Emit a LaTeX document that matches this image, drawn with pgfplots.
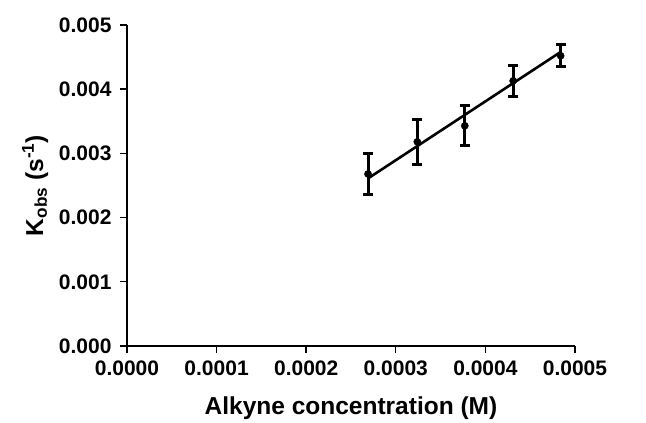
\documentclass[border=0pt]{standalone}
\usepackage{fontspec}
\setmainfont{Liberation Sans}
\usepackage{pgfplots}
\pgfplotsset{compat=1.18}
\begin{document}
\begin{tikzpicture}
\begin{axis}[
  scale only axis,
  width=448pt, height=321pt,
  xmin=0, xmax=0.0005, ymin=0, ymax=0.005,
  axis lines*=left,
  axis line style={line width=1.4pt},
  tick style={line width=1.4pt, black},
  tick align=outside,
  major tick length=7pt,
  xtick={0,0.0001,0.0002,0.0003,0.0004,0.0005},
  ytick={0,0.001,0.002,0.003,0.004,0.005},
  scaled ticks=false,
  xticklabel style={yshift=-4pt, /pgf/number format/.cd, fixed, fixed zerofill, precision=4},
  yticklabel style={xshift=-5pt, /pgf/number format/.cd, fixed, fixed zerofill, precision=3},
  /pgf/number format/assume math mode=true,
  ticklabel style={font=\fontsize{21}{25}\selectfont\bfseries},
  label style={font=\fontsize{24.5}{28}\selectfont\bfseries},
  xlabel style={at={(axis description cs:0.5,-0.193)}, anchor=center},
  ylabel style={at={(axis description cs:-0.205,0.5)}, anchor=center},
  xlabel={Alkyne concentration (M)},
  ylabel={K\textsubscript{obs} (s\textsuperscript{-1})},
  clip=false,
]
\addplot[black, line width=2.6pt, mark=none] coordinates {(0.000269,0.00261) (0.000484,0.00458)};
\addplot[black, only marks, mark=*, mark size=3.6pt,
  error bars/.cd, y dir=both, y explicit,
  error bar style={line width=3pt}, error mark options={rotate=90, mark size=5pt, line width=2.8pt}]
  coordinates {
  (0.000269,0.00268) +- (0,0.00032)
  (0.000324,0.00318) +- (0,0.00035)
  (0.000377,0.00343) +- (0,0.00031)
  (0.000431,0.00413) +- (0,0.00024)
  (0.000484,0.00452) +- (0,0.00017)
  };
\end{axis}
\path (current axis.south west) ++(-127pt,-75pt) rectangle ++(646pt,421pt);
\end{tikzpicture}
\end{document}
